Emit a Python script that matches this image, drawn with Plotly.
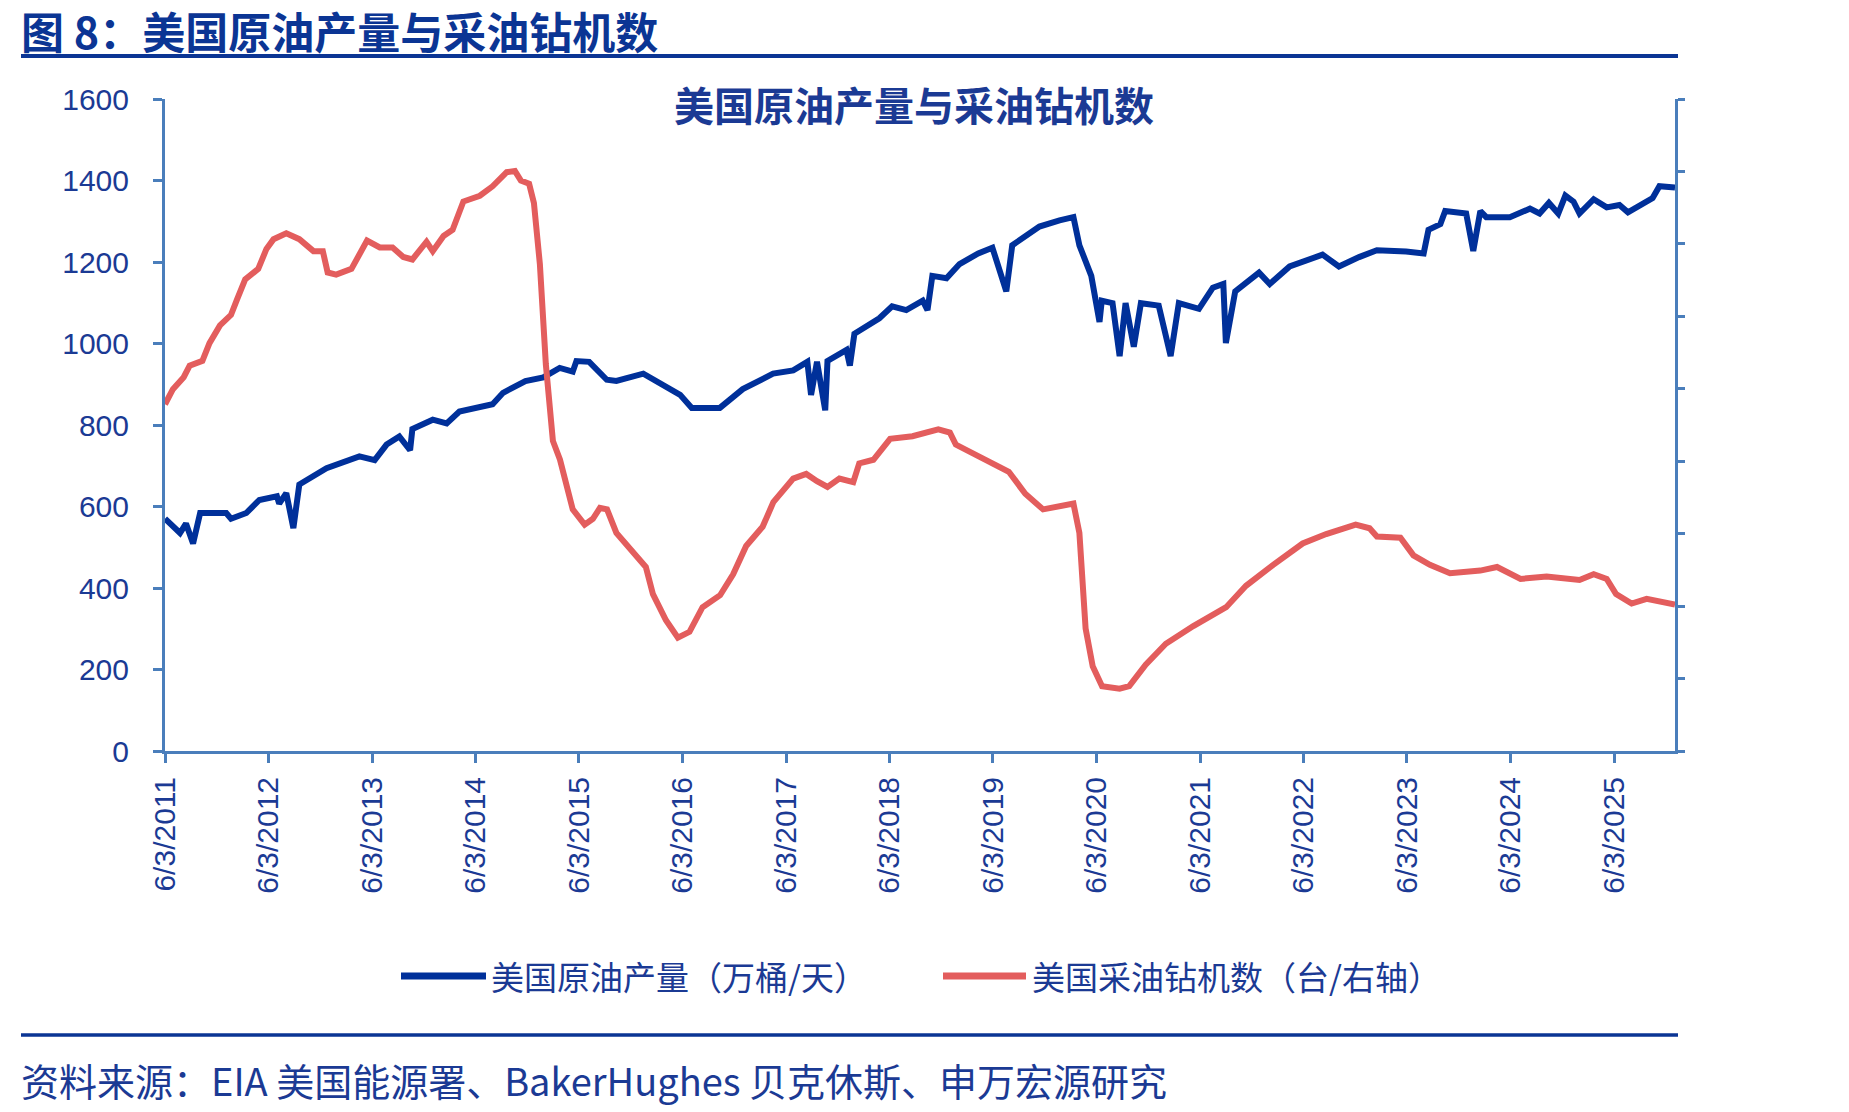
import plotly.graph_objects as go

# ---------------- data ----------------
prod_dates = [
    "2011-06-03", "2011-07-26", "2011-08-16", "2011-09-10", "2011-10-05", "2012-01-05", "2012-01-22",
    "2012-03-16", "2012-05-01", "2012-07-02", "2012-07-10", "2012-08-04", "2012-08-29", "2012-09-19",
    "2012-12-24", "2013-04-19", "2013-06-12", "2013-07-24", "2013-09-07", "2013-10-15", "2013-10-23",
    "2014-01-03", "2014-02-21", "2014-04-07", "2014-08-02", "2014-09-08", "2014-11-26", "2015-01-28",
    "2015-03-27", "2015-05-12", "2015-05-25", "2015-07-09", "2015-09-09", "2015-10-13", "2016-01-16",
    "2016-03-15", "2016-05-25", "2016-07-05", "2016-10-12", "2017-01-01", "2017-04-18", "2017-06-28",
    "2017-08-17", "2017-08-30", "2017-09-20", "2017-10-19", "2017-10-27", "2018-01-02", "2018-01-14",
    "2018-01-30", "2018-04-28", "2018-06-12", "2018-08-01", "2018-09-28", "2018-10-15", "2018-11-01",
    "2018-12-21", "2019-02-05", "2019-04-12", "2019-06-01", "2019-07-20", "2019-08-10", "2019-11-14",
    "2020-01-24", "2020-03-13", "2020-04-03", "2020-05-15", "2020-06-13", "2020-06-21", "2020-07-29",
    "2020-08-23", "2020-09-13", "2020-10-12", "2020-11-06", "2021-01-08", "2021-02-19", "2021-03-20",
    "2021-05-30", "2021-07-18", "2021-08-24", "2021-09-02", "2021-10-05", "2021-12-28", "2022-02-04",
    "2022-04-15", "2022-08-09", "2022-10-06", "2022-12-16", "2023-02-17", "2023-05-31", "2023-08-01",
    "2023-08-18", "2023-09-29", "2023-10-16", "2023-12-29", "2024-01-23", "2024-02-17", "2024-03-09",
    "2024-05-31", "2024-08-10", "2024-09-13", "2024-10-16", "2024-11-18", "2024-12-13", "2025-01-11",
    "2025-02-01", "2025-03-23", "2025-05-08", "2025-06-22", "2025-07-22", "2025-09-02", "2025-10-17",
    "2025-11-10", "2026-01-04",
]
prod_values = [
    570, 535, 558, 509, 584, 584, 570,
    584, 616, 625, 607, 633, 547, 654,
    694, 723, 714, 752, 772, 738, 790,
    813, 804, 833, 851, 879, 908, 917,
    940, 931, 957, 955, 911, 908, 926,
    903, 874, 842, 842, 888, 926, 934,
    955, 874, 955, 836, 957, 984, 946,
    1024, 1062, 1091, 1082, 1105, 1082, 1166,
    1160, 1195, 1221, 1235, 1128, 1241, 1287,
    1302, 1310, 1241, 1166, 1053, 1105, 1099,
    969, 1099, 992, 1099, 1093, 969, 1099,
    1085, 1137, 1146, 1001, 1128, 1174, 1146,
    1189, 1218, 1189, 1212, 1229, 1226, 1221,
    1279, 1293, 1325, 1319, 1227, 1325, 1310,
    1310, 1331, 1319, 1345, 1319, 1363, 1348,
    1319, 1354, 1334, 1340, 1322, 1340, 1357,
    1386, 1383,
]

rig_dates = [
    "2011-06-03", "2011-07-01", "2011-08-08", "2011-08-29", "2011-10-13", "2011-11-07", "2011-12-14",
    "2012-01-22", "2012-02-12", "2012-03-12", "2012-04-27", "2012-05-26", "2012-06-20", "2012-08-04",
    "2012-09-19", "2012-11-08", "2012-12-11", "2012-12-28", "2013-01-27", "2013-03-22", "2013-05-16",
    "2013-06-30", "2013-08-14", "2013-09-21", "2013-10-23", "2013-12-12", "2014-01-03", "2014-02-10",
    "2014-03-14", "2014-04-21", "2014-06-18", "2014-08-02", "2014-09-21", "2014-10-20", "2014-11-10",
    "2014-12-09", "2014-12-26", "2015-01-16", "2015-02-06", "2015-03-03", "2015-03-28", "2015-04-22",
    "2015-05-12", "2015-06-23", "2015-07-22", "2015-08-16", "2015-09-10", "2015-10-13", "2015-11-15",
    "2015-12-23", "2016-01-25", "2016-02-19", "2016-04-05", "2016-05-17", "2016-06-27", "2016-08-12",
    "2016-10-13", "2016-11-28", "2017-01-13", "2017-03-12", "2017-04-19", "2017-06-28", "2017-08-13",
    "2017-09-20", "2017-10-27", "2017-12-08", "2018-01-26", "2018-02-16", "2018-04-07", "2018-06-05",
    "2018-08-23", "2018-11-22", "2019-01-02", "2019-01-23", "2019-04-12", "2019-07-29", "2019-09-25",
    "2019-11-27", "2020-03-13", "2020-04-03", "2020-04-25", "2020-05-20", "2020-06-22", "2020-08-23",
    "2020-09-26", "2020-11-23", "2021-02-02", "2021-05-10", "2021-09-03", "2021-11-12", "2022-02-16",
    "2022-05-31", "2022-08-22", "2022-12-04", "2023-01-22", "2023-02-17", "2023-05-11", "2023-06-26",
    "2023-08-23", "2023-11-02", "2024-02-17", "2024-04-16", "2024-07-08", "2024-10-08", "2025-02-01",
    "2025-03-23", "2025-05-08", "2025-06-10", "2025-08-04", "2025-09-26", "2026-01-04",
]
rig_values = [
    957, 999, 1032, 1064, 1077, 1126, 1175,
    1204, 1246, 1302, 1331, 1386, 1413, 1429,
    1413, 1380, 1380, 1321, 1315, 1331, 1409,
    1390, 1390, 1364, 1357, 1406, 1380, 1422,
    1439, 1517, 1533, 1559, 1598, 1601, 1575,
    1566, 1513, 1344, 1068, 856, 804, 729,
    667, 625, 641, 671, 667, 602, 573,
    540, 508, 433, 361, 313, 329, 397,
    430, 488, 566, 619, 687, 752, 765,
    745, 729, 752, 742, 794, 804, 862,
    869, 888, 879, 846, 814, 771, 710,
    667, 683, 602, 338, 234, 179, 172,
    179, 238, 296, 345, 397, 456, 514,
    573, 599, 625, 615, 592, 589, 540,
    514, 491, 498, 508, 475, 482, 472,
    488, 475, 433, 407, 420, 404,
]

tick_dates = ["2011-06-03", "2012-06-03", "2013-06-03", "2014-06-03", "2015-06-03",
              "2016-06-03", "2017-06-03", "2018-06-03", "2019-06-03", "2020-06-03",
              "2021-06-03", "2022-06-03", "2023-06-03", "2024-06-03", "2025-06-03"]
tick_labels = ["6/3/2011", "6/3/2012", "6/3/2013", "6/3/2014", "6/3/2015",
               "6/3/2016", "6/3/2017", "6/3/2018", "6/3/2019", "6/3/2020",
               "6/3/2021", "6/3/2022", "6/3/2023", "6/3/2024", "6/3/2025"]

series_names = ["美国原油产量（万桶/天）", "美国采油钻机数（台/右轴）"]
fig_title = "图 8：美国原油产量与采油钻机数"
chart_title = "美国原油产量与采油钻机数"
source_text = "资料来源：EIA 美国能源署、BakerHughes 贝克休斯、申万宏源研究"

# ---------------- style ----------------
BLUE = "#00309A"
RED = "#E35D5D"
AXIS = "#4A7EBB"
TEXT = "#1B3A94"
CJK = "Noto Sans CJK SC"
NUM = "Liberation Sans, Arial, sans-serif"

W, H = 1849, 1112
L, R, T, B = 165, 174, 99, 361
PW, PH = W - L - R, H - T - B


def px(x):
    return (x - L) / PW


def py(y):
    return (H - B - y) / PH


fig = go.Figure()
fig.add_trace(go.Scatter(x=prod_dates, y=prod_values, name=series_names[0], mode="lines",
                         line=dict(color=BLUE, width=6), yaxis="y"))
fig.add_trace(go.Scatter(x=rig_dates, y=rig_values, name=series_names[1], mode="lines",
                         line=dict(color=RED, width=6), yaxis="y2"))

fig.update_layout(
    width=W, height=H,
    margin=dict(l=L, r=R, t=T, b=B),
    paper_bgcolor="white", plot_bgcolor="white",
    showlegend=False,
    xaxis=dict(
        type="date", range=["2011-06-03", "2026-01-04"],
        tickmode="array", tickvals=tick_dates, ticktext=tick_labels,
        tickangle=-90, ticks="outside", ticklen=9, tickwidth=2.5, tickcolor=AXIS,
        showline=True, linecolor=AXIS, linewidth=3, showgrid=False, zeroline=False,
        tickfont=dict(family=NUM, size=30, color=TEXT), ticklabelstandoff=2,
    ),
    yaxis=dict(
        range=[0, 1600], dtick=200, tick0=0, ticks="outside", ticklen=9, tickwidth=2.5,
        tickcolor=AXIS, showline=True, linecolor=AXIS, linewidth=3, showgrid=False,
        zeroline=False, tickfont=dict(family=NUM, size=30, color=TEXT), ticklabelstandoff=18,
    ),
    yaxis2=dict(
        range=[0, 1800], dtick=200, tick0=0, overlaying="y", side="right",
        ticks="outside", ticklen=7, tickwidth=2.5, tickcolor=AXIS, showticklabels=False,
        showline=True, linecolor=AXIS, linewidth=3, showgrid=False, zeroline=False,
    ),
)

shapes = [
    dict(type="line", xref="paper", yref="paper", x0=px(21), x1=px(1678), y0=py(56), y1=py(56),
         line=dict(color="#0B3594", width=4)),
    dict(type="line", xref="paper", yref="paper", x0=px(21), x1=px(1678), y0=py(1035), y1=py(1035),
         line=dict(color="#0B3594", width=3.5)),
    dict(type="line", xref="paper", yref="paper", x0=px(401), x1=px(486), y0=py(976), y1=py(976),
         line=dict(color=BLUE, width=7)),
    dict(type="line", xref="paper", yref="paper", x0=px(943), x1=px(1026), y0=py(976), y1=py(976),
         line=dict(color=RED, width=7)),
]
annotations = [
    dict(text="<b>" + fig_title + "</b>", xref="paper", yref="paper", x=px(19), y=py(30),
         xanchor="left", yanchor="middle", showarrow=False,
         font=dict(family=CJK, size=43, color="#0B3594")),
    dict(text="<b>" + chart_title + "</b>", xref="paper", yref="paper", x=px(914), y=py(104),
         xanchor="center", yanchor="middle", showarrow=False,
         font=dict(family=CJK, size=40, color=TEXT)),
    dict(text=series_names[0], xref="paper", yref="paper", x=px(489), y=py(976),
         xanchor="left", yanchor="middle", showarrow=False,
         font=dict(family=CJK, size=33, color=TEXT)),
    dict(text=series_names[1], xref="paper", yref="paper", x=px(1030), y=py(976),
         xanchor="left", yanchor="middle", showarrow=False,
         font=dict(family=CJK, size=33, color=TEXT)),
    dict(text=source_text, xref="paper", yref="paper", x=px(19), y=py(1079),
         xanchor="left", yanchor="middle", showarrow=False,
         font=dict(family=CJK, size=38, color=TEXT)),
]
fig.update_layout(shapes=shapes, annotations=annotations)

fig.write_html("out.html")
